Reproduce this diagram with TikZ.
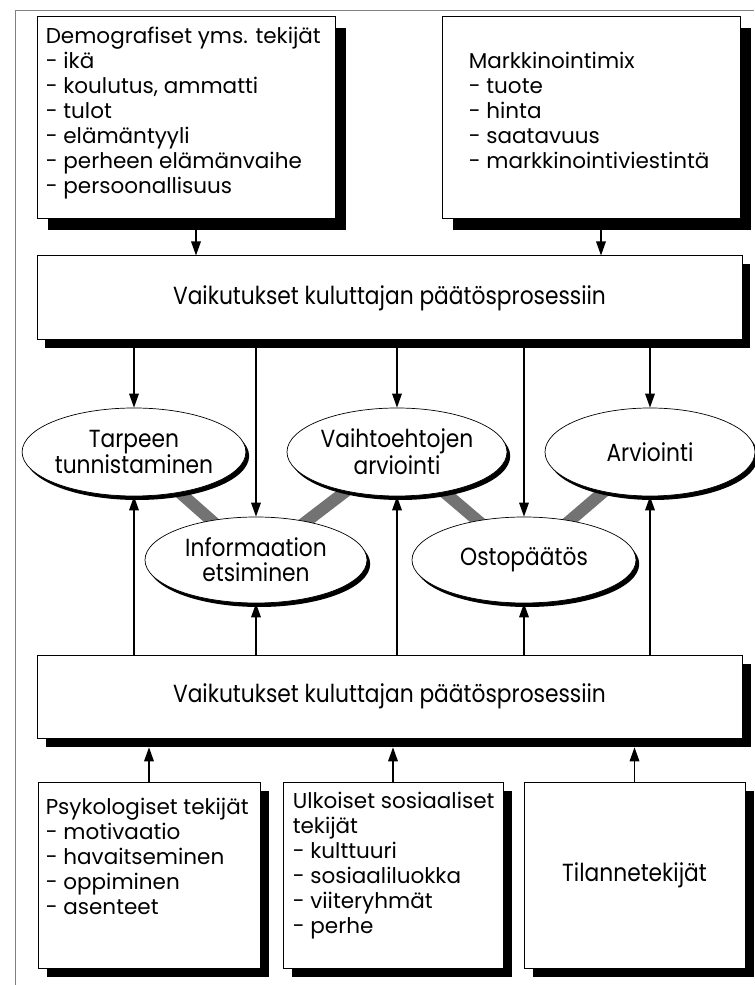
\documentclass[tikz,border=0pt]{standalone}
\usepackage{fontspec}
\setmainfont{Poppins}
\newfontfamily\labelfont[FakeStretch=0.88]{Poppins}
\usetikzlibrary{arrows.meta,positioning,shapes.geometric,shadows,backgrounds}

\tikzset{
  box/.style={rectangle, draw, fill=white, line width=0.7pt, drop shadow={shadow xshift=#1, shadow yshift=-#1, fill=black, opacity=1}},
  box/.default=2.2mm,
  big/.style={font=\labelfont\fontsize{17.6}{17.8}\selectfont},
  phase/.style={ellipse, draw, fill=white, line width=0.5pt, align=center, inner sep=0pt, big, drop shadow={shadow xshift=0.8mm, shadow yshift=-1mm, fill=black, opacity=1}},
  list/.style={align=left, inner sep=0pt, font=\fontsize{15.3}{17.8}\selectfont},
  arr/.style={-{Triangle[length=3.5mm, width=2.4mm]}, line width=1pt},
  link/.style={line width=3mm, black!55},
}

\begin{document}
\begin{tikzpicture}

         \useasboundingbox (0,0) rectangle (18.85,24.625);
         \draw [gray, line width=0.5pt] (0.375,0) |- (18.85,24.375);

         \node [box=2.7mm, minimum width=7.45cm, minimum height=5.05cm] (demo)   at (4.65,21.675)    {};
         \node [box=2.7mm, minimum width=7.45cm, minimum height=5.05cm] (mix)    at (14.775,21.675)  {};
         \node [list, below right=0.25cm and 0.225cm of demo.north west] (demotext) {Demografiset yms. tekijät\\- ikä\\- koulutus, ammatti\\- tulot\\- elämäntyyli\\- perheen elämänvaihe\\- persoonallisuus};
         \node [list, below right=0.875cm and 0.675cm of mix.north west]  (mixtext)  {Markkinointimix\\- tuote\\- hinta\\- saatavuus\\- markkinointiviestintä};

         \node [box=2mm, big, minimum width=17.625cm, minimum height=2.1cm]     (infl1)  at (9.7375,17.175)  {Vaikutukset kuluttajan päätösprosessiin};

         \node [phase, minimum width=5.45cm, minimum height=2.2cm]  (tarve)   at (3.35,13.325)   {Tarpeen\\tunnistaminen};
         \node [phase, minimum width=5.5cm, minimum height=2.2cm]   (vaihto)  at (9.925,13.325)  {Vaihtoehtojen\\arviointi};
         \node [phase, minimum width=5.25cm, minimum height=2.2cm]  (arvio)   at (16.25,13.325)  {Arviointi};
         \node [phase, minimum width=5.55cm, minimum height=2.15cm] (info)    at (6.4,10.625)    {Informaation\\etsiminen};
         \node [phase, minimum width=5.6cm, minimum height=2.15cm]  (osto)    at (13.1,10.625)   {Ostopäätös};

         \node [box=2.2mm, big, minimum width=17.625cm, minimum height=2.075cm] (infl2)  at (9.7375,7.2125)  {Vaikutukset kuluttajan päätösprosessiin};

         \node [box=2.3mm, minimum width=5.55cm, minimum height=4.65cm]       (psyk)   at (3.725,2.75)    {};
         \node [box=2.3mm, minimum width=5.5cm, minimum height=4.65cm]        (ulk)    at (9.825,2.75)    {};
         \node [box=2.3mm, big, minimum width=5.525cm, minimum height=4.65cm]  (tila)   at (15.8625,2.75)  {Tilannetekijät};
         \node [list, below right=0.4cm and 0.2cm of psyk.north west]   (psyktext) {Psykologiset tekijät\\- motivaatio\\- havaitseminen\\- oppiminen\\- asenteet};
         \node [list, below right=0.25cm and 0.25cm of ulk.north west]  (ulktext)  {Ulkoiset sosiaaliset\\tekijät\\- kulttuuri\\- sosiaaliluokka\\- viiteryhmät\\- perhe};

         \begin{scope}[on background layer]
         \draw [link] (tarve.center) -- (info.center);
         \draw [link] (info.center) -- (vaihto.center);
         \draw [link] (vaihto.center) -- (osto.center);
         \draw [link] (osto.center) -- (arvio.center);
         \end{scope}

         \draw [arr] ([xshift=2.5mm]demo.south) -- ([xshift=2.5mm]demo.south |- infl1.north);
         \draw [arr] ([xshift=2.5mm]mix.south) -- ([xshift=2.5mm]mix.south |- infl1.north);

         \draw [arr] (infl1.south -| tarve) -- (tarve);
         \draw [arr] (infl1.south -| info) -- (info);
         \draw [arr] (infl1.south -| vaihto) -- (vaihto);
         \draw [arr] (infl1.south -| osto) -- (osto);
         \draw [arr] (infl1.south -| arvio) -- (arvio);

         \draw [arr] (infl2.north -| tarve) -- (tarve);
         \draw [arr] (infl2.north -| info) -- (info);
         \draw [arr] (infl2.north -| vaihto) -- (vaihto);
         \draw [arr] (infl2.north -| osto) -- (osto);
         \draw [arr] (infl2.north -| arvio) -- (arvio);

         \draw [arr, shorten >=2.2mm] (psyk.north) -- (psyk.north |- infl2.south);
         \draw [arr, shorten >=2.2mm] (ulk.north) -- (ulk.north |- infl2.south);
         \draw [arr, shorten >=2.2mm] (tila.north) -- (tila.north |- infl2.south);

\end{tikzpicture}
\end{document}
